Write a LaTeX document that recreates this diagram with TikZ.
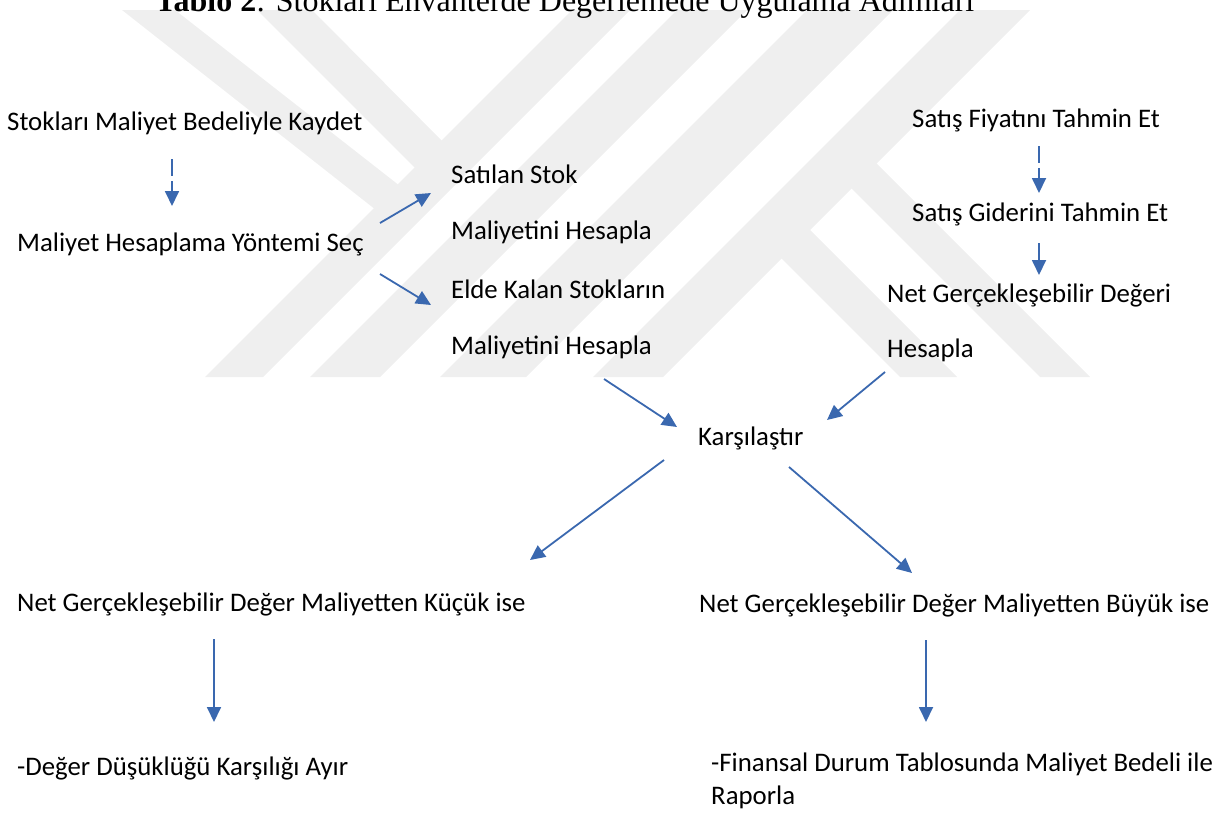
\documentclass[tikz,border=0pt]{standalone}
\usepackage{fontspec}
\setmainfont{Carlito}
\newfontfamily\titlefont{Liberation Serif}
\usetikzlibrary{arrows.meta,calc}
\definecolor{FlowBlue}{HTML}{3A68AF}
\definecolor{MarkGray}{HTML}{EFEFEF}

\begin{document}
\begin{tikzpicture}[x=1pt, y=-1pt,
  every node/.style={font=\fontsize{26.8}{32}\selectfont, inner sep=0pt, anchor=base west},
  flow/.style={draw=FlowBlue, line width=1.8pt, -{Triangle[length=15pt,width=14pt]}},
  flowdash/.style={flow, dash pattern=on 17pt off 5pt}]
\useasboundingbox (0,0) rectangle (1220,814);
% watermark bands
\fill[MarkGray] (122,10) -- (175,10) -- (414,197) -- (390,221) -- cycle;
\fill[MarkGray] (257,10) -- (312,10) -- (456,155) -- (429,182) -- cycle;
\fill[MarkGray] (572,10) -- (630,10) -- (263,377) -- (205,377) -- cycle;
\fill[MarkGray] (677,10) -- (747,10) -- (380,377) -- (310,377) -- cycle;
\fill[MarkGray] (807,10) -- (893,10) -- (526,377) -- (440,377) -- cycle;
\fill[MarkGray] (960,10) -- (1030,10) -- (663,377) -- (593,377) -- cycle;
\fill[MarkGray] (859,146) -- (1090,377) -- (1040,377) -- (834,171) -- cycle;
\fill[MarkGray] (792,212) -- (957,377) -- (900,377) -- (764,241) -- cycle;
% title
\node[font=\titlefont\fontsize{32}{38}\selectfont] (baslik) at (155,11) {\textbf{Tablo 2}: Stokları Envanterde Değerlemede Uygulama Adımları};
% steps
\foreach \name/\label/\x/\y in {kaydet/Stokları Maliyet Bedeliyle Kaydet/7/130,
  yontem/Maliyet Hesaplama Yöntemi Seç/17/251,
  satilan/Satılan Stok/451/183, satilanb/Maliyetini Hesapla/451/239,
  elde/Elde Kalan Stokların/451/298, eldeb/Maliyetini Hesapla/451/354,
  fiyat/Satış Fiyatını Tahmin Et/912/127, gider/Satış Giderini Tahmin Et/912/221,
  ngd/Net Gerçekleşebilir Değeri/887/302, ngdb/Hesapla/887/357,
  karsi/Karşılaştır/698/445,
  kucuk/Net Gerçekleşebilir Değer Maliyetten Küçük ise/17/611,
  buyuk/Net Gerçekleşebilir Değer Maliyetten Büyük ise/699/612,
  ayir/-Değer Düşüklüğü Karşılığı Ayır/17/775,
  rapor/-Finansal Durum Tablosunda Maliyet Bedeli ile/711/771, raporb/Raporla/711/804}{
  \node (\name) at (\x,\y) {\label};
}
\draw[flowdash] ($(kaydet.base west)+(165,29)$) -- ($(yontem.base west)+(155,-45)$);
\draw[flow] ($(yontem.base west)+(363,-28)$) -- ($(satilan.base west)+(-20,10)$);
\draw[flow] ($(yontem.base west)+(363,23)$) -- ($(elde.base west)+(-20,7)$);
\draw[flow] ($(eldeb.base west)+(153,25)$) -- ($(karsi.base west)+(-21,-18)$);
\draw[flow] ($(ngdb.base west)+(-2,15)$) -- ($(karsi.base west)+(129,-25)$);
\draw[flowdash] ($(fiyat.base west)+(127,19)$) -- ($(gider.base west)+(127,-28)$);
\draw[flowdash] ($(gider.base west)+(127,22)$) -- ($(ngd.base west)+(152,-27)$);
\draw[flow] ($(karsi.base west)+(-34,15)$) -- ($(kucuk.base west)+(513,-51)$);
\draw[flow] ($(karsi.base west)+(91,22)$) -- ($(buyuk.base west)+(213,-39)$);
\draw[flow] ($(kucuk.base west)+(197,28)$) -- ($(ayir.base west)+(197,-53)$);
\draw[flow] ($(buyuk.base west)+(227,28)$) -- ($(rapor.base west)+(215,-49)$);
\end{tikzpicture}
\end{document}
